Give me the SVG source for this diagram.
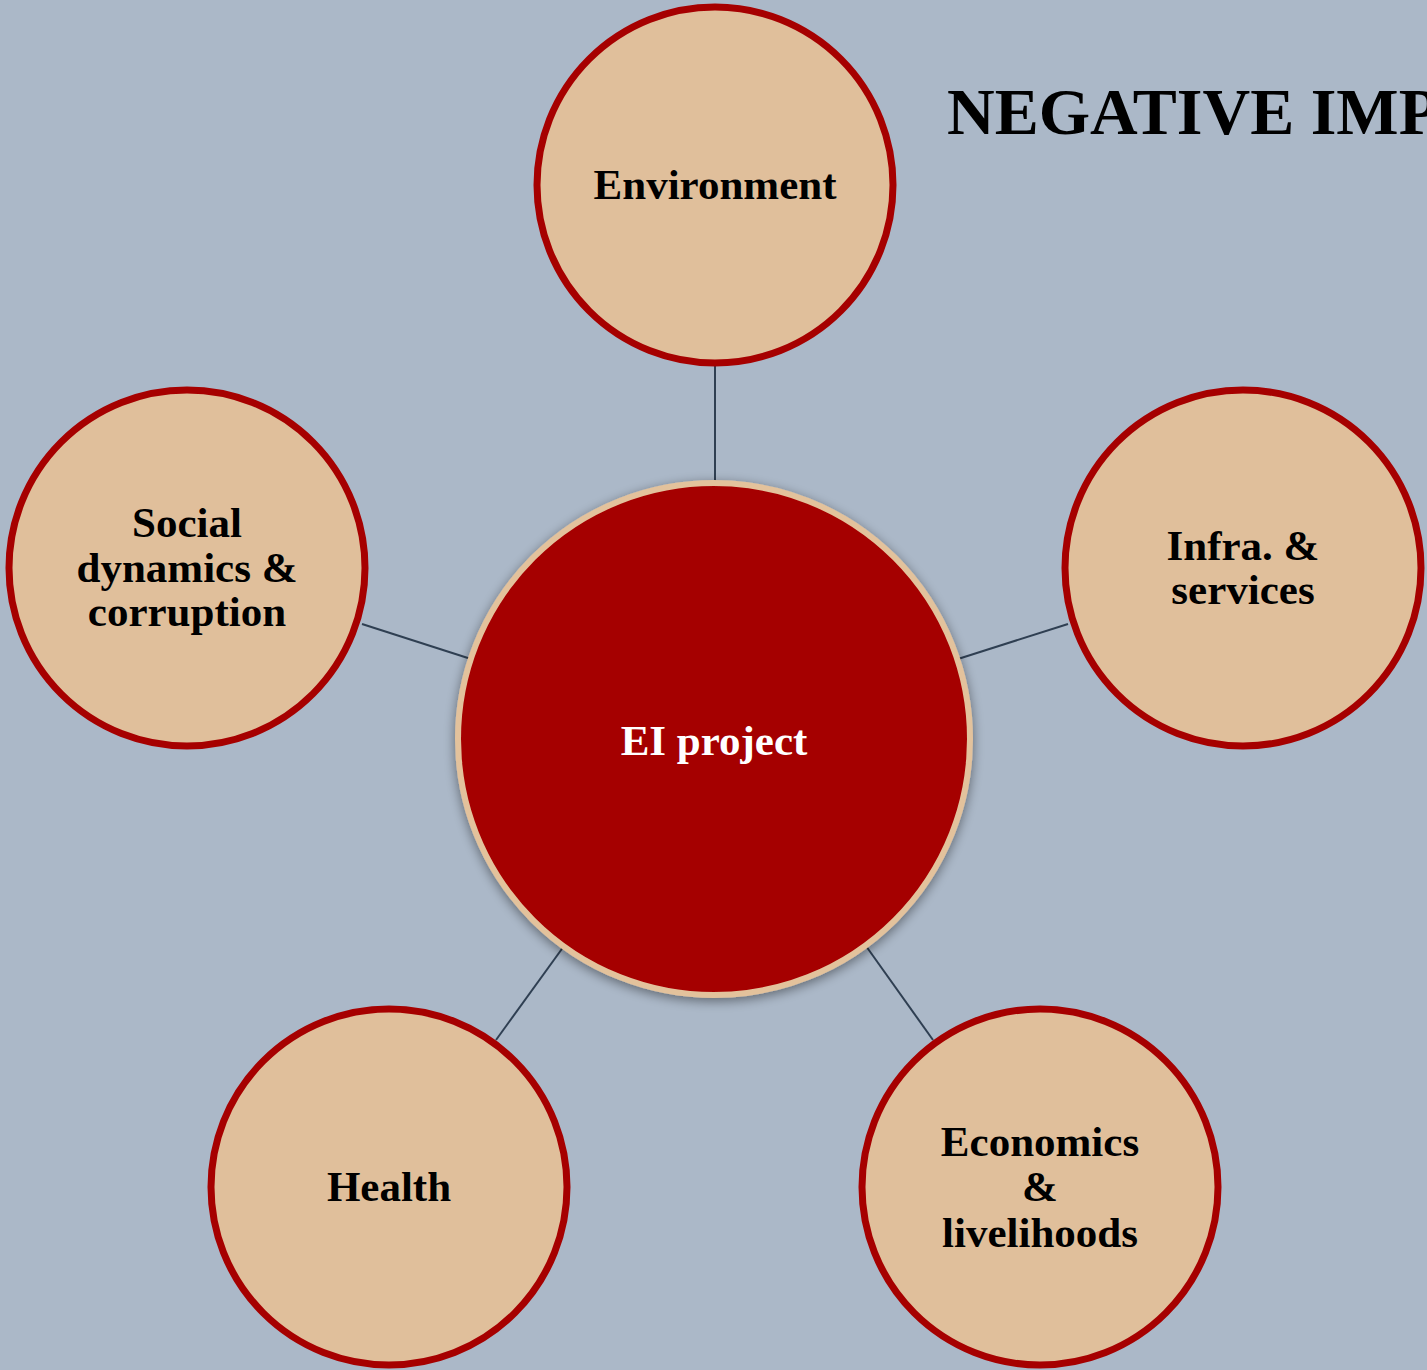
<svg xmlns="http://www.w3.org/2000/svg" width="1427" height="1370" viewBox="0 0 1427 1370">
<style>
.outer{fill:#E0BF9B;stroke:#A60000;stroke-width:7}
.lbl{font-family:"Liberation Serif","Times New Roman",serif;font-weight:bold;font-size:43px;fill:#000;text-anchor:middle}
.conn{stroke:#2F3F52;stroke-width:2;fill:none}
</style>
<defs>
<filter id="sh" x="-20%" y="-20%" width="140%" height="140%">
<feGaussianBlur in="SourceAlpha" stdDeviation="6"/>
<feOffset dx="0" dy="3" result="b"/>
<feComponentTransfer><feFuncA type="linear" slope="0.45"/></feComponentTransfer>
<feMerge><feMergeNode/><feMergeNode in="SourceGraphic"/></feMerge>
</filter>
</defs>
<rect width="1427" height="1370" fill="#ABB8C8"/>
<text x="947" y="134" font-family="Liberation Serif,'Times New Roman',serif" font-weight="bold" font-size="66" fill="#000">NEGATIVE IMP</text>
<g id="connectors">
<line class="conn" x1="715" y1="366" x2="715" y2="482"/>
<line class="conn" x1="362" y1="624" x2="471" y2="659"/>
<line class="conn" x1="1068" y1="624" x2="958" y2="659"/>
<line class="conn" x1="496" y1="1040" x2="564" y2="946"/>
<line class="conn" x1="933" y1="1040" x2="866" y2="946"/>
</g>
<g id="center">
<circle cx="714" cy="739" r="256" fill="#A50000" stroke="#E3C29C" stroke-width="6" filter="url(#sh)"/>
<text class="lbl" x="714" y="755" style="fill:#fff">EI project</text>
</g>
<g id="environment">
<circle class="outer" cx="715" cy="185" r="178"/>
<text class="lbl" x="715" y="199">Environment</text>
</g>
<g id="social">
<circle class="outer" cx="187" cy="568" r="178"/>
<text class="lbl" x="187" y="537">Social</text>
<text class="lbl" x="187" y="582">dynamics &amp;</text>
<text class="lbl" x="187" y="626">corruption</text>
</g>
<g id="infra">
<circle class="outer" cx="1243" cy="568" r="178"/>
<text class="lbl" x="1243" y="560">Infra. &amp;</text>
<text class="lbl" x="1243" y="604">services</text>
</g>
<g id="health">
<circle class="outer" cx="389" cy="1187" r="178"/>
<text class="lbl" x="389" y="1201">Health</text>
</g>
<g id="economics">
<circle class="outer" cx="1040" cy="1187" r="178"/>
<text class="lbl" x="1040" y="1156">Economics</text>
<text class="lbl" x="1040" y="1201">&amp;</text>
<text class="lbl" x="1040" y="1247">livelihoods</text>
</g>
</svg>
